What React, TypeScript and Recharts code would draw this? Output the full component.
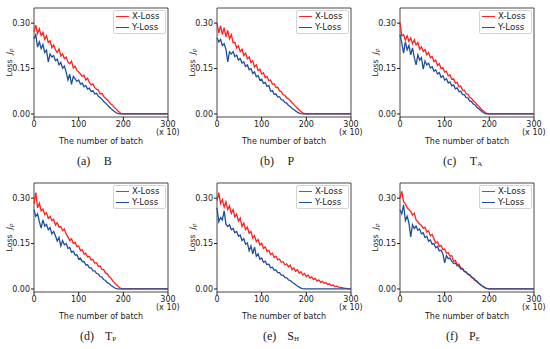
import React from "react";
import { LineChart, Line, XAxis, YAxis, ReferenceArea, Legend } from "recharts";

// batch index (x 10)
const BATCH = [
  0, 4, 8, 12, 16, 20, 24, 28, 32, 36, 40, 44, 48, 52, 56, 60, 64, 68, 72, 76,
  80, 84, 88, 92, 96, 100, 104, 108, 112, 116, 120, 124, 128, 132, 136, 140,
  144, 148, 152, 156, 160, 164, 168, 172, 176, 180, 184, 188, 192, 196,
];
const BATCH_LONG = [
  ...BATCH, 200, 204, 208, 212, 216, 220, 224, 228, 232, 236, 240, 244, 248,
  252, 256, 260, 264, 268, 272, 276, 280, 284, 288, 292, 296,
];
const TAIL_X = [200, 300];
const TAIL_LOSS = [0, 0];
const END_X = [300];
const END_LOSS = [0];

const X_TICKS = [0, 100, 200, 300];
const Y_TICKS = [0, 0.15, 0.3];

// (a) B
const A_X = [
  0.272, 0.293, 0.266, 0.281, 0.259, 0.27, 0.247, 0.258, 0.236, 0.242,
  0.219, 0.228, 0.212, 0.203, 0.215, 0.192, 0.199, 0.183, 0.188, 0.171,
  0.166, 0.174, 0.152, 0.158, 0.144, 0.139, 0.132, 0.124, 0.128, 0.112,
  0.118, 0.103, 0.096, 0.099, 0.087, 0.082, 0.079, 0.066, 0.068, 0.058,
  0.052, 0.047, 0.04, 0.033, 0.029, 0.021, 0.016, 0.01, 0.005, 0.001,
];
const A_Y = [
  0.248, 0.262, 0.221, 0.238, 0.216, 0.229, 0.203, 0.211, 0.172, 0.198,
  0.188, 0.193, 0.176, 0.181, 0.162, 0.17, 0.151, 0.158, 0.138, 0.112,
  0.131, 0.098, 0.124, 0.116, 0.108, 0.112, 0.099, 0.102, 0.09, 0.094,
  0.082, 0.085, 0.074, 0.077, 0.066, 0.068, 0.058, 0.054, 0.049, 0.041,
  0.036, 0.03, 0.024, 0.018, 0.013, 0.008, 0.004, 0.001, 0, 0,
];
// (b) P
const B_X = [
  0.3, 0.268, 0.292, 0.262, 0.285, 0.255, 0.276, 0.248, 0.262, 0.236,
  0.236, 0.218, 0.225, 0.206, 0.214, 0.193, 0.201, 0.182, 0.188, 0.17,
  0.176, 0.155, 0.162, 0.144, 0.148, 0.132, 0.136, 0.12, 0.124, 0.11,
  0.112, 0.098, 0.1, 0.087, 0.088, 0.076, 0.074, 0.064, 0.061, 0.053,
  0.05, 0.044, 0.037, 0.031, 0.025, 0.019, 0.013, 0.008, 0.004, 0.001,
];
const B_Y = [
  0.252, 0.238, 0.246, 0.226, 0.232, 0.214, 0.172, 0.205, 0.198, 0.206,
  0.19, 0.194, 0.178, 0.183, 0.168, 0.172, 0.157, 0.162, 0.146, 0.15,
  0.134, 0.139, 0.123, 0.127, 0.112, 0.115, 0.101, 0.104, 0.091, 0.094,
  0.075, 0.077, 0.065, 0.066, 0.056, 0.057, 0.047, 0.046, 0.038, 0.036,
  0.028, 0.025, 0.018, 0.015, 0.01, 0.006, 0.003, 0.001, 0, 0,
];
// (c) TA
const C_X = [
  0.302, 0.258, 0.262, 0.244, 0.258, 0.24, 0.251, 0.232, 0.245, 0.228,
  0.236, 0.214, 0.222, 0.206, 0.213, 0.196, 0.203, 0.186, 0.19, 0.173,
  0.178, 0.16, 0.166, 0.15, 0.153, 0.138, 0.141, 0.126, 0.129, 0.114,
  0.117, 0.102, 0.104, 0.09, 0.092, 0.079, 0.079, 0.067, 0.066, 0.055,
  0.052, 0.043, 0.039, 0.031, 0.026, 0.019, 0.013, 0.008, 0.004, 0.001,
];
const C_Y = [
  0.262, 0.235, 0.201, 0.238, 0.212, 0.226, 0.195, 0.218, 0.186, 0.162,
  0.195, 0.178, 0.186, 0.148, 0.175, 0.162, 0.168, 0.152, 0.156, 0.141,
  0.146, 0.132, 0.137, 0.121, 0.126, 0.112, 0.116, 0.102, 0.106, 0.093,
  0.096, 0.083, 0.086, 0.074, 0.075, 0.064, 0.064, 0.054, 0.053, 0.043,
  0.041, 0.033, 0.03, 0.022, 0.018, 0.012, 0.007, 0.003, 0, 0,
];
// (d) TP
const D_X = [
  0.282, 0.318, 0.268, 0.283, 0.258, 0.264, 0.246, 0.252, 0.233, 0.24,
  0.226, 0.23, 0.211, 0.219, 0.204, 0.206, 0.193, 0.198, 0.181, 0.172,
  0.16, 0.166, 0.15, 0.154, 0.14, 0.142, 0.127, 0.13, 0.115, 0.118,
  0.106, 0.108, 0.096, 0.097, 0.086, 0.087, 0.075, 0.076, 0.065, 0.064,
  0.053, 0.05, 0.041, 0.036, 0.028, 0.021, 0.015, 0.009, 0.004, 0.001,
];
const D_Y = [
  0.262, 0.24, 0.248, 0.222, 0.201, 0.228, 0.208, 0.213, 0.196, 0.203,
  0.182, 0.19, 0.176, 0.158, 0.17, 0.142, 0.16, 0.146, 0.15, 0.134,
  0.137, 0.121, 0.125, 0.112, 0.113, 0.099, 0.102, 0.09, 0.091, 0.079,
  0.08, 0.07, 0.07, 0.06, 0.06, 0.051, 0.05, 0.041, 0.039, 0.031,
  0.028, 0.021, 0.018, 0.012, 0.008, 0.004, 0.001, 0, 0, 0,
];
// (e) SH — X-Loss runs to 300
const E_X = [
  0.292, 0.318, 0.282, 0.295, 0.27, 0.288, 0.262, 0.274, 0.25, 0.262,
  0.238, 0.247, 0.224, 0.234, 0.206, 0.218, 0.196, 0.204, 0.184, 0.19,
  0.168, 0.176, 0.156, 0.163, 0.145, 0.151, 0.134, 0.139, 0.124, 0.128,
  0.114, 0.118, 0.104, 0.108, 0.096, 0.099, 0.088, 0.09, 0.08, 0.083,
  0.073, 0.079, 0.064, 0.07, 0.058, 0.064, 0.052, 0.057, 0.046, 0.051,
  0.041, 0.046, 0.036, 0.04, 0.031, 0.035, 0.026, 0.03, 0.022, 0.025,
  0.018, 0.021, 0.015, 0.017, 0.011, 0.013, 0.008, 0.009, 0.006, 0.005,
  0.004, 0.003, 0.002, 0.001, 0,
];
const E_Y = [
  0.268, 0.222, 0.236, 0.228, 0.258, 0.214, 0.206, 0.212, 0.196, 0.2,
  0.186, 0.19, 0.174, 0.178, 0.16, 0.166, 0.148, 0.152, 0.126, 0.142,
  0.116, 0.138, 0.108, 0.116, 0.098, 0.102, 0.088, 0.092, 0.08, 0.082,
  0.07, 0.072, 0.062, 0.063, 0.054, 0.054, 0.046, 0.046, 0.038, 0.037,
  0.03, 0.028, 0.022, 0.019, 0.014, 0.01, 0.006, 0.003, 0.001, 0,
];
// (f) PE
const F_X = [
  0.3, 0.322, 0.288, 0.282, 0.268, 0.262, 0.256, 0.244, 0.25, 0.228,
  0.222, 0.214, 0.21, 0.2, 0.204, 0.188, 0.192, 0.176, 0.18, 0.166,
  0.152, 0.156, 0.14, 0.144, 0.13, 0.132, 0.118, 0.12, 0.108, 0.11,
  0.092, 0.094, 0.08, 0.082, 0.07, 0.068, 0.058, 0.056, 0.048, 0.046,
  0.038, 0.035, 0.028, 0.024, 0.019, 0.015, 0.01, 0.006, 0.003, 0.001,
];
const F_Y = [
  0.262, 0.248, 0.278, 0.226, 0.24, 0.218, 0.172, 0.212, 0.2, 0.208,
  0.194, 0.198, 0.182, 0.186, 0.17, 0.174, 0.158, 0.162, 0.148, 0.15,
  0.136, 0.14, 0.126, 0.128, 0.116, 0.086, 0.11, 0.1, 0.102, 0.092,
  0.084, 0.086, 0.076, 0.076, 0.066, 0.066, 0.058, 0.056, 0.05, 0.048,
  0.04, 0.036, 0.03, 0.026, 0.02, 0.015, 0.01, 0.006, 0.003, 0.001,
];

const Y_MIN = -0.01;
const Y_MAX = 0.35;
const RED = "#ff2020";
const BLUE = "#1f4e9e";
const SERIES_COLOR: Record<string, string> = { "X-Loss": RED, "Y-Loss": BLUE };
const INK = "#1a1a1a";
const FONT = "DejaVu Sans";

const points = (xs: number[], ys: number[]) =>
  xs.map((batch, i) => ({ batch, loss: ys[i] }));

function YLabel(props: any) {
  const vb = props.viewBox || { y: 8, height: 109 };
  const cx = 9;
  const cy = vb.y + vb.height / 2;
  return (
    <text
      x={cx}
      y={cy}
      transform={`rotate(-90, ${cx}, ${cy})`}
      textAnchor="middle"
      dominantBaseline="central"
      fontSize={7.8}
      fontFamily={FONT}
      fill={INK}
    >
      Loss
      <tspan dx={5} fontStyle="italic">J</tspan>
      <tspan fontSize={5.5} dy={2} fontStyle="italic">p</tspan>
    </text>
  );
}

function LegendBox({ payload }: any) {
  return (
    <div
      style={{
        width: 51,
        height: 22,
        border: "1px solid #d4d4d4",
        borderRadius: 2,
        background: "rgba(255,255,255,0.85)",
        fontFamily: FONT,
        fontSize: 8.6,
        color: INK,
      }}
    >
      {(payload || []).map((p: any) => (
        <div
          key={p.value}
          style={{ display: "flex", alignItems: "center", height: 11, lineHeight: "11px" }}
        >
          <span
            style={{
              display: "inline-block",
              width: 13,
              borderTop: `1.5px solid ${SERIES_COLOR[p.value] || p.color}`,
              marginLeft: 2,
              marginRight: 3,
            }}
          />
          <span>{p.value}</span>
        </div>
      ))}
    </div>
  );
}

type PanelProps = {
  left: number;
  top: number;
  xLoss: { batch: number; loss: number }[];
  yLoss: { batch: number; loss: number }[];
  tag: string;
  name: string;
  sub?: string;
  capLeft: number;
  capGap: number;
};

function Panel({ left, top, xLoss, yLoss, tag, name, sub, capLeft, capGap }: PanelProps) {
  const tickStyle = { fontSize: 8, fill: INK, fontFamily: FONT };
  return (
    <div style={{ position: "absolute", left, top, width: 183, height: 175 }}>
      <LineChart width={183} height={130} margin={{ top: 8, right: 15, bottom: 0, left: 0 }}>
        <ReferenceArea
          x1={0}
          x2={300}
          y1={Y_MIN}
          y2={Y_MAX}
          fill="none"
          stroke={INK}
          strokeWidth={0.8}
        />
        <XAxis
          dataKey="batch"
          type="number"
          domain={[0, 300]}
          ticks={X_TICKS}
          height={13}
          tickSize={3}
          tickMargin={1}
          tick={tickStyle}
          stroke={INK}
          axisLine={false}
        />
        <YAxis
          type="number"
          domain={[Y_MIN, Y_MAX]}
          ticks={Y_TICKS}
          width={34}
          tickSize={3}
          tickMargin={1}
          tick={tickStyle}
          stroke={INK}
          axisLine={false}
          tickFormatter={(v: number) => v.toFixed(2)}
          label={<YLabel />}
        />
        <Legend
          layout="vertical"
          align="center"
          verticalAlign="middle"
          content={<LegendBox />}
          wrapperStyle={{ left: 113, top: 10, width: 53, height: 24 }}
        />
        <Line
          data={xLoss}
          dataKey="loss"
          name="X-Loss"
          stroke={RED}
          strokeWidth={1.3}
          dot={false}
          isAnimationActive={false}
        />
        <Line
          data={yLoss}
          dataKey="loss"
          name="Y-Loss"
          stroke={BLUE}
          strokeWidth={1.3}
          dot={false}
          isAnimationActive={false}
        />
      </LineChart>
      <div
        style={{
          position: "absolute",
          left: 156,
          top: 128,
          fontSize: 8,
          lineHeight: "9px",
          fontFamily: FONT,
          color: INK,
          whiteSpace: "nowrap",
        }}
      >
        (x 10)
      </div>
      <div
        style={{
          position: "absolute",
          left: 34,
          width: 134,
          top: 137,
          textAlign: "center",
          fontSize: 8,
          lineHeight: "9px",
          fontFamily: FONT,
          color: INK,
          whiteSpace: "nowrap",
        }}
      >
        The number of batch
      </div>
      <div
        style={{
          position: "absolute",
          left: capLeft,
          top: 153.5,
          fontSize: 12,
          lineHeight: "14px",
          fontFamily: "Liberation Serif",
          color: INK,
          whiteSpace: "nowrap",
        }}
      >
        {tag}
        <span style={{ marginLeft: capGap }}>
          {name}
          {sub && <span style={{ fontSize: 7, verticalAlign: "-1px" }}>{sub}</span>}
        </span>
      </div>
    </div>
  );
}

export default function App() {
  const tail = (xs: number[], ys: number[]) =>
    points([...xs, ...TAIL_X], [...ys, ...TAIL_LOSS]);
  return (
    <div
      style={{
        position: "absolute",
        left: 0,
        top: 0,
        width: 550,
        height: 349,
        background: "#fff",
        overflow: "hidden",
      }}
    >
      <Panel left={0} top={0} xLoss={tail(BATCH, A_X)} yLoss={tail(BATCH, A_Y)} tag="(a)" name="B" capLeft={77} capGap={13.5} />
      <Panel left={183} top={0} xLoss={tail(BATCH, B_X)} yLoss={tail(BATCH, B_Y)} tag="(b)" name="P" capLeft={77} capGap={13.5} />
      <Panel left={366} top={0} xLoss={tail(BATCH, C_X)} yLoss={tail(BATCH, C_Y)} tag="(c)" name="T" sub="A" capLeft={77} capGap={13.5} />
      <Panel left={0} top={175} xLoss={tail(BATCH, D_X)} yLoss={tail(BATCH, D_Y)} tag="(d)" name="T" sub="P" capLeft={80} capGap={11} />
      <Panel
        left={183}
        top={175}
        xLoss={points([...BATCH_LONG, ...END_X], [...E_X, ...END_LOSS])}
        yLoss={tail(BATCH, E_Y)}
        tag="(e)"
        name="S"
        sub="H"
        capLeft={80}
        capGap={11}
      />
      <Panel left={366} top={175} xLoss={tail(BATCH, F_X)} yLoss={tail(BATCH, F_Y)} tag="(f)" name="P" sub="E" capLeft={80} capGap={11} />
    </div>
  );
}
